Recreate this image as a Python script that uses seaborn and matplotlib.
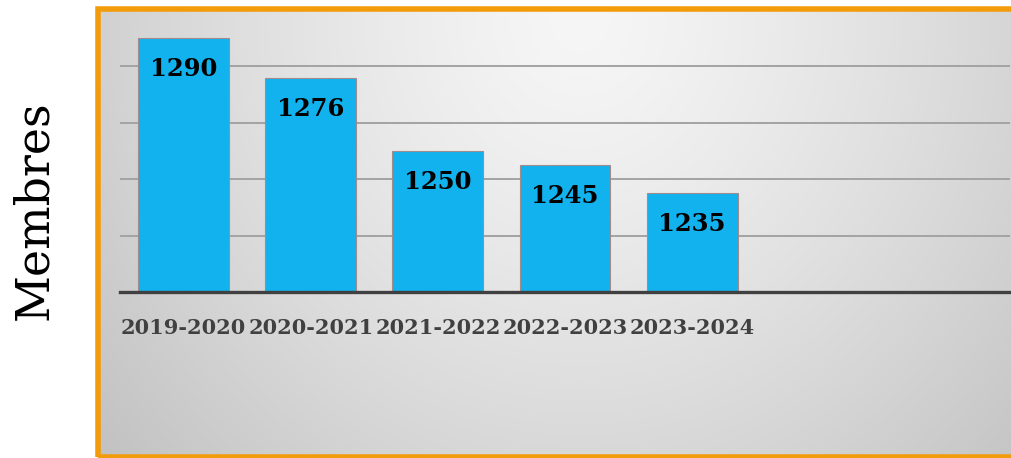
import numpy as np
import pandas as pd
import matplotlib
matplotlib.use("Agg")
import matplotlib.pyplot as plt
from matplotlib.patches import Rectangle
import seaborn as sns

# ---- data ----
seasons = ["2019-2020", "2020-2021", "2021-2022", "2022-2023", "2023-2024"]
members = [1290, 1276, 1250, 1245, 1235]
y_min, y_max = 1200, 1300
grid_values = [1220, 1240, 1260, 1280]
y_label = "Membres"

W, H = 1012, 458
fig = plt.figure(figsize=(W / 100, H / 100), dpi=100)
fig.patch.set_facecolor("white")

# ---- gradient background panel ----
px0, py0, px1, py1 = 99, 10, 1012, 456
bg = fig.add_axes([px0 / W, 1 - py1 / H, (px1 - px0) / W, (py1 - py0) / H])
xs = np.linspace(px0, px1, 400)
ys = np.linspace(py0, py1, 200)
X, Y = np.meshgrid(xs, ys)
d = np.sqrt(((X - 580) / 560) ** 2 + ((Y - 20) / 600) ** 2)
v = np.clip(246 - 45 * d ** 1.3, 150, 255) / 255.0
img = np.dstack([v, v, v])
bg.imshow(img, aspect="auto", extent=[0, 1, 0, 1], origin="upper")
bg.set_axis_off()

# orange border
fig.patches.append(Rectangle((98.5 / W, 1 - 456.5 / H), (1030 - 98.5) / W, (456.5 - 9) / H,
                             transform=fig.transFigure, fill=False,
                             edgecolor="#F39C0B", linewidth=4.0, zorder=5))

# ---- data axes ----
ax_l, ax_r, ax_t, ax_b = 120, 1010, 10, 292
ax = fig.add_axes([ax_l / W, 1 - ax_b / H, (ax_r - ax_l) / W, (ax_b - ax_t) / H])
ax.set_facecolor("none")
df = pd.DataFrame({"season": seasons, "members": members})
sns.barplot(data=df, x="season", y="members", ax=ax, color="#12B2EE",
            saturation=1, width=0.715, edgecolor="#A08C8C", linewidth=0.8, zorder=3)
ax.set_xlim(-0.5, 6.5)
ax.set_ylim(y_min, y_max)
ax.set_yticks(grid_values)
ax.yaxis.grid(True, color="#A3A3A3", linewidth=1.4, zorder=0)
ax.set_axisbelow(True)
ax.tick_params(axis="y", left=False, labelleft=False)
ax.tick_params(axis="x", length=0, pad=19)
for s in ax.spines.values():
    s.set_visible(False)
ax.axhline(y_min, color="#404040", linewidth=2.4, clip_on=False, zorder=4)
ax.set_xlabel("")
ax.set_ylabel("")
for lab in ax.get_xticklabels():
    lab.set_fontfamily("DejaVu Serif")
    lab.set_fontweight("bold")
    lab.set_fontsize(15)
    lab.set_color("#404040")

for i, val in enumerate(members):
    ax.text(i, val - 11, str(val), ha="center", va="center", fontsize=17.5,
            fontweight="bold", family="DejaVu Serif", color="black", zorder=6)

fig.text(35 / W, 1 - 210 / H, y_label, rotation=90, ha="center", va="center",
         fontsize=33, family="DejaVu Serif", color="black")

fig.savefig("out.png", dpi=100)
